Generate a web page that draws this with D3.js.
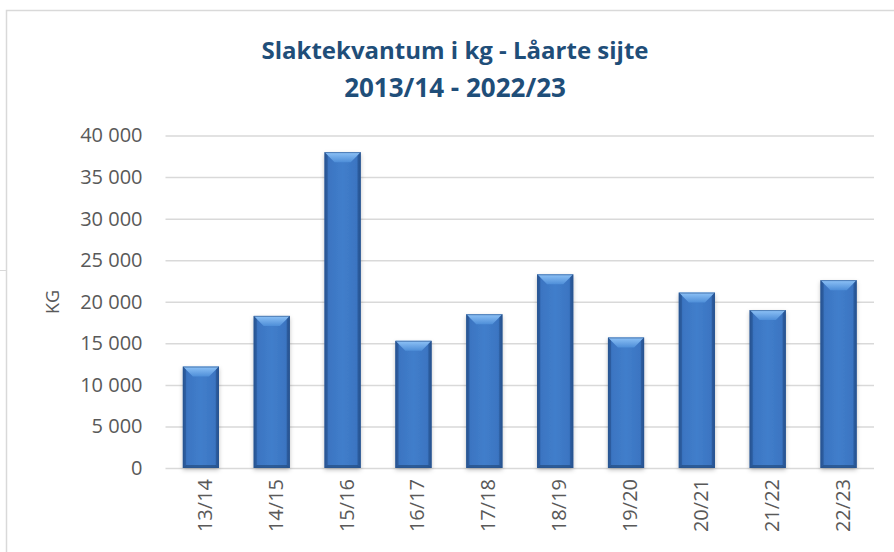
<!DOCTYPE html>
<html>
<head>
<meta charset="utf-8">
<script src="https://cdn.jsdelivr.net/npm/d3@7"></script>
<style>
  html, body { margin: 0; padding: 0; background: #fff; }
  svg { display: block; }
</style>
</head>
<body>
<script>
// Chart data
const categories = ["13/14", "14/15", "15/16", "16/17", "17/18", "18/19", "19/20", "20/21", "21/22", "22/23"];
const values = [12200, 18300, 38000, 15300, 18500, 23300, 15700, 21100, 19000, 22600];
const yTicks = [0, 5000, 10000, 15000, 20000, 25000, 30000, 35000, 40000];
const titleLines = ["Slaktekvantum i kg - Låarte sijte", "2013/14 - 2022/23"];
const yLabel = "KG";

let width = 894, height = 552;
let plot = { left: 165.5, right: 874, top: 135.5, bottom: 468 };

let nb = d3.formatLocale({ decimal: ",", thousands: " ", grouping: [3], currency: ["", " kr"] });
let fmt = nb.format(",d");

let x = d3.scaleBand()
    .domain(categories)
    .range([plot.left, plot.right])
    .paddingInner(0.49)
    .paddingOuter(0.245);

let y = d3.scaleLinear()
    .domain([0, 40000])
    .range([plot.bottom, plot.top]);

let svg = d3.select("body")
    .append("svg")
    .attr("width", width)
    .attr("height", height);

// gradients for the bevelled bars
let defs = svg.append("defs");
let body = defs.append("linearGradient").attr("id", "barBody").attr("x1", 0).attr("x2", 1).attr("y1", 0).attr("y2", 0);
body.append("stop").attr("offset", "0%").attr("stop-color", "#2d5fa3");
body.append("stop").attr("offset", "12%").attr("stop-color", "#3b75c2");
body.append("stop").attr("offset", "50%").attr("stop-color", "#417ecb");
body.append("stop").attr("offset", "88%").attr("stop-color", "#3b75c2");
body.append("stop").attr("offset", "100%").attr("stop-color", "#2b5b9c");

let bevel = defs.append("linearGradient").attr("id", "barTop").attr("x1", 0).attr("x2", 0).attr("y1", 0).attr("y2", 1);
bevel.append("stop").attr("offset", "0%").attr("stop-color", "#8fc3f7");
bevel.append("stop").attr("offset", "100%").attr("stop-color", "#4e8ed8");

let shadow = defs.append("filter").attr("id", "shadow").attr("x", "-20%").attr("y", "-5%").attr("width", "140%").attr("height", "115%");
shadow.append("feDropShadow").attr("dx", 0).attr("dy", 2).attr("stdDeviation", 2).attr("flood-color", "#000").attr("flood-opacity", 0.25);

// chart frame (Excel object border)
svg.append("rect")
    .attr("x", 6.5).attr("y", 10.5)
    .attr("width", width).attr("height", height)
    .attr("fill", "none")
    .attr("stroke", "#d9d9d9")
    .attr("stroke-width", 1.5);
svg.append("line")
    .attr("x1", 0).attr("x2", 6).attr("y1", 270.5).attr("y2", 270.5)
    .attr("stroke", "#d9d9d9");

// title
svg.append("text")
    .attr("x", 455)
    .attr("text-anchor", "middle")
    .style("font-family", "'Open Sans', sans-serif")
    .style("font-weight", "bold")
    .style("fill", "#1f4e79")
    .selectAll("tspan")
    .data(titleLines)
    .enter()
    .append("tspan")
    .attr("x", 455)
    .attr("y", (_, i) => 59 + i * 38)
    .style("font-size", (_, i) => i === 0 ? "24px" : "26px")
    .text(d => d);

// y axis with gridlines
let yAxis = svg.append("g")
    .attr("transform", `translate(${plot.left}, 0)`)
    .call(d3.axisLeft(y)
        .tickValues(yTicks)
        .tickSize(-(plot.right - plot.left))
        .tickPadding(23)
        .tickFormat(fmt));
yAxis.select(".domain").remove();
yAxis.selectAll("line").attr("stroke", "#d9d9d9").attr("stroke-width", 1.5);
yAxis.selectAll("text")
    .style("font-family", "'Open Sans', sans-serif")
    .style("font-size", "20px")
    .style("fill", "#595959");

svg.append("text")
    .attr("transform", "translate(53, 302) rotate(-90)")
    .attr("text-anchor", "middle")
    .attr("dy", "0.35em")
    .style("font-family", "'Open Sans', sans-serif")
    .style("font-size", "18px")
    .style("fill", "#595959")
    .text(yLabel);

// x axis
let xAxis = svg.append("g")
    .attr("transform", `translate(0, ${plot.bottom})`)
    .call(d3.axisBottom(x).tickSize(0));
xAxis.select(".domain").remove();
xAxis.selectAll("text")
    .attr("transform", "rotate(-90)")
    .attr("x", -11)
    .attr("y", 4)
    .attr("dy", "0.35em")
    .style("text-anchor", "end")
    .style("font-family", "'Open Sans', sans-serif")
    .style("font-size", "20px")
    .style("fill", "#595959");

// bars
let bars = svg.append("g")
    .selectAll(".bar")
    .data(categories.map((c, i) => ({ cat: c, value: values[i] })))
    .enter()
    .append("g")
    .attr("class", "bar");

let b = 10;  // bevel depth
let s = 3;   // side edge

bars.append("rect")
    .attr("x", d => x(d.cat))
    .attr("y", d => y(d.value))
    .attr("width", x.bandwidth())
    .attr("height", d => y(0) - y(d.value))
    .attr("fill", "url(#barBody)")
    .attr("filter", "url(#shadow)");

bars.append("path")
    .attr("d", d => {
        let x0 = x(d.cat), x1 = x0 + x.bandwidth(), y0 = y(d.value);
        return `M${x0},${y0}L${x1},${y0}L${x1 - b},${y0 + b}L${x0 + b},${y0 + b}Z`;
    })
    .attr("fill", "url(#barTop)");

// darker left / right edges and bottom
bars.append("path")
    .attr("d", d => {
        let x0 = x(d.cat), x1 = x0 + x.bandwidth(), y0 = y(d.value), y1 = y(0);
        return `M${x0},${y0}L${x0 + s},${y0 + s}L${x0 + s},${y1 - s}L${x0},${y1}Z` +
            `M${x1},${y0}L${x1 - s},${y0 + s}L${x1 - s},${y1 - s}L${x1},${y1}Z`;
    })
    .attr("fill", "#254f8a")
    .attr("opacity", 0.55);

bars.append("path")
    .attr("d", d => {
        let x0 = x(d.cat), x1 = x0 + x.bandwidth(), y1 = y(0);
        return `M${x0},${y1}L${x0 + s},${y1 - s}L${x1 - s},${y1 - s}L${x1},${y1}Z`;
    })
    .attr("fill", "#1f4677")
    .attr("opacity", 0.6);

bars.append("rect")
    .attr("x", d => x(d.cat) + 0.5)
    .attr("y", d => y(d.value) + 0.5)
    .attr("width", x.bandwidth() - 1)
    .attr("height", d => y(0) - y(d.value) - 1)
    .attr("fill", "none")
    .attr("stroke", "#2a5590")
    .attr("stroke-opacity", 0.6);
</script>
</body>
</html>
